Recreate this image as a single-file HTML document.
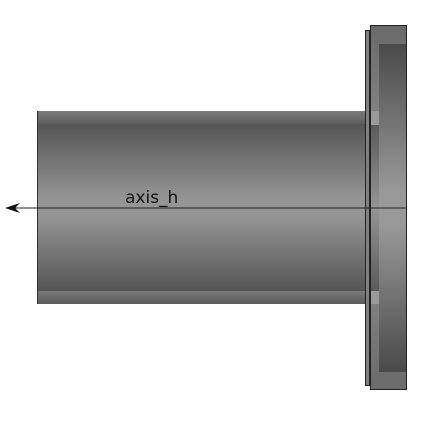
<!DOCTYPE html>
<html><head><meta charset="utf-8"><style>html,body{margin:0;padding:0;background:#fff}svg{display:block}</style></head>
<body>
<svg width="431" height="427" viewBox="0 0 431 427" xmlns="http://www.w3.org/2000/svg">
<defs>
<linearGradient id="body" x1="0" y1="0" x2="0" y2="1">
<stop offset="0" stop-color="#555"/><stop offset="0.45" stop-color="#959595"/><stop offset="0.55" stop-color="#959595"/><stop offset="1" stop-color="#555"/></linearGradient>
<linearGradient id="band" x1="0" y1="0" x2="0" y2="1">
<stop offset="0" stop-color="#7a7a7a"/><stop offset="1" stop-color="#5a5a5a"/></linearGradient>
<linearGradient id="fl" x1="0" y1="0" x2="0" y2="1">
<stop offset="0" stop-color="#6a6a6a"/><stop offset="0.5" stop-color="#999"/><stop offset="1" stop-color="#6a6a6a"/></linearGradient>
<linearGradient id="rec" x1="0" y1="0" x2="0" y2="1">
<stop offset="0" stop-color="#4a4a4a"/><stop offset="0.45" stop-color="#999"/><stop offset="0.55" stop-color="#999"/><stop offset="1" stop-color="#4a4a4a"/></linearGradient>
<linearGradient id="col" x1="0" y1="0" x2="0" y2="1">
<stop offset="0" stop-color="#5a5a5a"/><stop offset="0.5" stop-color="#959595"/><stop offset="1" stop-color="#5a5a5a"/></linearGradient>
</defs>
<g>
<rect x="37" y="111" width="333" height="14" fill="url(#band)"/>
<rect x="37" y="124" width="333" height="167" fill="url(#body)"/>
<rect x="37" y="291" width="333" height="13" fill="url(#band)"/>
<line x1="37.5" y1="111" x2="37.5" y2="304" stroke="#333" stroke-width="1"/>
</g>
<rect x="365.5" y="30.5" width="4" height="355" fill="#808080" stroke="#222" stroke-width="1"/>
<g>
<rect x="370.5" y="25.5" width="36" height="364" fill="url(#fl)" stroke="#222" stroke-width="1"/>
<rect x="379" y="44" width="27" height="328" fill="url(#rec)"/>
<rect x="371" y="111" width="8" height="14" fill="#9a9a9a"/>
<rect x="371" y="125" width="8" height="166" fill="url(#col)"/>
<rect x="371" y="291" width="8" height="13" fill="#9a9a9a"/>
<line x1="406.5" y1="25" x2="406.5" y2="390" stroke="#222" stroke-width="1"/>
</g>
<g>
<line x1="10" y1="208" x2="407" y2="208" stroke="#222" stroke-width="1"/>
<path d="M5 208 L20 203 L15 208 L20 213 Z" fill="#111"/>
<text x="125" y="203" font-family="DejaVu Sans, sans-serif" font-size="17" fill="#111">axis_h</text>
</g>
</svg>
</body></html>
